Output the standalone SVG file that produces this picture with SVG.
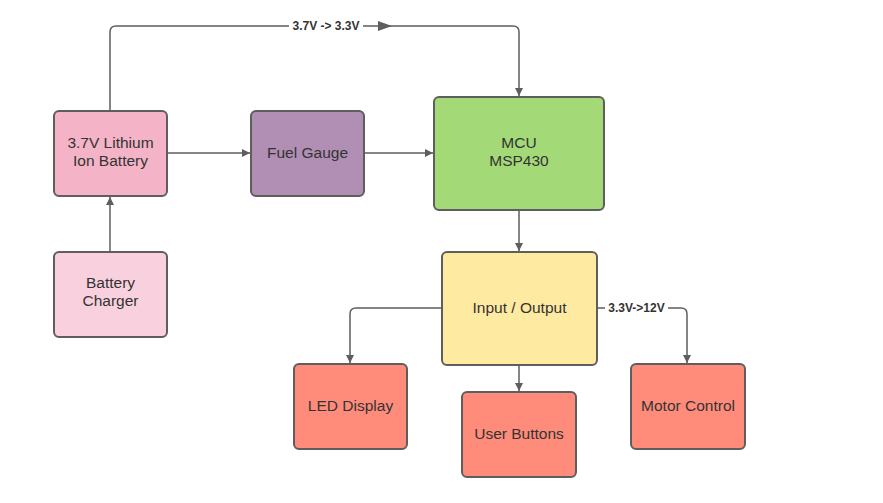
<svg xmlns="http://www.w3.org/2000/svg" width="883" height="503" viewBox="0 0 883 503">
<style>
.n{stroke:#5e5e5e;stroke-width:2}
.t{font-family:"Liberation Sans",Arial,sans-serif;font-size:15.5px;fill:#333;text-anchor:middle}
.l{font-family:"Liberation Sans",Arial,sans-serif;font-size:12px;font-weight:bold;fill:#333;text-anchor:middle}
.c{fill:none;stroke:#5e5e5e;stroke-width:1.5}
</style>
<defs>
<marker id="a" viewBox="0 0 10 10" refX="10" refY="5" markerWidth="8" markerHeight="8" markerUnits="userSpaceOnUse" orient="auto"><path d="M0,0L10,5L0,10z" fill="#5e5e5e"/></marker>
</defs>
<rect width="883" height="503" fill="#fff"/>
<g id="connectors">
<path class="c" d="M110,111V32Q110,26 116,26H513Q519,26 519,32V96" marker-end="url(#a)"/>
<path d="M378,21L392,26L378,31z" fill="#5e5e5e"/>
<rect x="289" y="18" width="74" height="16" fill="#fff"/>
<text class="l" x="326" y="30">3.7V -&gt; 3.3V</text>
<path class="c" d="M167,153H250" marker-end="url(#a)"/>
<path class="c" d="M364,153H433" marker-end="url(#a)"/>
<path class="c" d="M110,252V197" marker-end="url(#a)"/>
<path class="c" d="M519,210V251" marker-end="url(#a)"/>
<path class="c" d="M519,365V391" marker-end="url(#a)"/>
<path class="c" d="M442,308H356Q350,308 350,314V363" marker-end="url(#a)"/>
<path class="c" d="M597,308H681Q687,308 687,314V363" marker-end="url(#a)"/>
<rect x="605" y="300" width="63" height="16" fill="#fff"/>
<text class="l" x="636.5" y="312">3.3V-&gt;12V</text>
</g>
<g id="battery"><rect class="n" x="54" y="111" width="113" height="85" rx="5" fill="#F4B3C7"/><text class="t" x="110.5" y="148">3.7V Lithium</text><text class="t" x="110.5" y="166">Ion Battery</text></g>
<g id="charger"><rect class="n" x="54" y="252" width="113" height="85" rx="5" fill="#F9D1DE"/><text class="t" x="110.5" y="288">Battery</text><text class="t" x="110.5" y="306">Charger</text></g>
<g id="fuel"><rect class="n" x="251" y="111" width="113" height="85" rx="5" fill="#B18EB3"/><text class="t" x="307.5" y="158">Fuel Gauge</text></g>
<g id="mcu"><rect class="n" x="434" y="97" width="170" height="113" rx="5" fill="#A3D977"/><text class="t" x="519" y="148">MCU</text><text class="t" x="519" y="166">MSP430</text></g>
<g id="io"><rect class="n" x="442" y="252" width="155" height="113" rx="5" fill="#FFEAA1"/><text class="t" x="519.5" y="313">Input / Output</text></g>
<g id="led"><rect class="n" x="294" y="364" width="113" height="85" rx="5" fill="#FF8C7B"/><text class="t" x="350.5" y="411">LED Display</text></g>
<g id="buttons"><rect class="n" x="462" y="392" width="114" height="85" rx="5" fill="#FF8C7B"/><text class="t" x="519" y="439">User Buttons</text></g>
<g id="motor"><rect class="n" x="631" y="364" width="114" height="85" rx="5" fill="#FF8C7B"/><text class="t" x="688" y="411">Motor Control</text></g>
</svg>
